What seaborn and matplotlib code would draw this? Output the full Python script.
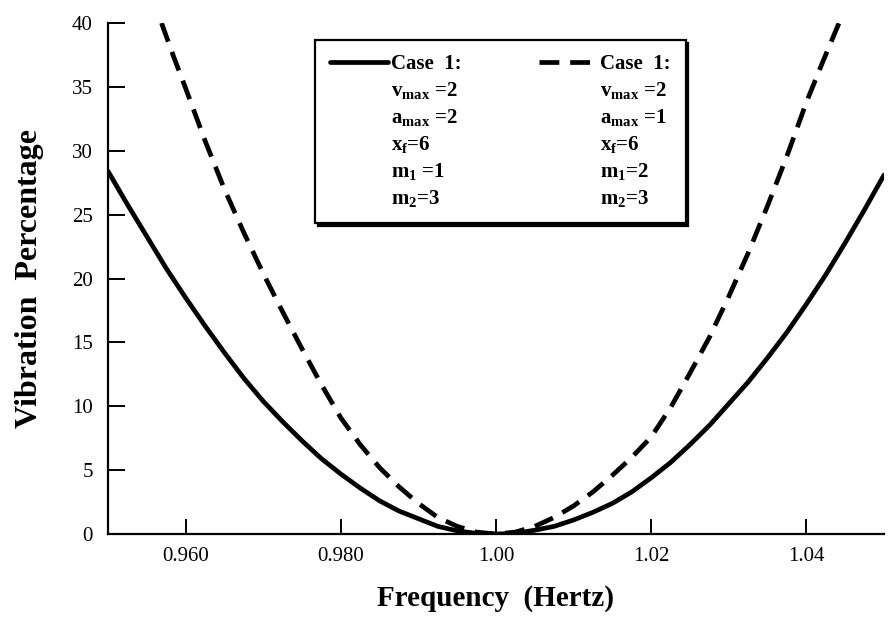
import numpy as np
import pandas as pd
import matplotlib
matplotlib.use("Agg")
import matplotlib.pyplot as plt
from matplotlib.lines import Line2D
import seaborn as sns

# ---- data ----
freq_solid = [0.9500, 0.9525, 0.9550, 0.9575, 0.9600, 0.9625, 0.9650, 0.9675, 0.9700, 0.9725,
              0.9750, 0.9775, 0.9800, 0.9825, 0.9850, 0.9875, 0.9900, 0.9925, 0.9950, 0.9975,
              1.0000, 1.0025, 1.0050, 1.0075, 1.0100, 1.0125, 1.0150, 1.0175, 1.0200, 1.0225,
              1.0250, 1.0275, 1.0300, 1.0325, 1.0350, 1.0375, 1.0400, 1.0425, 1.0450, 1.0475,
              1.0500]
vib_solid = [28.4, 25.8, 23.3, 20.8, 18.5, 16.3, 14.2, 12.2, 10.4, 8.8,
             7.3, 5.9, 4.7, 3.6, 2.6, 1.8, 1.2, 0.6, 0.25, 0.05,
             0.0, 0.05, 0.3, 0.6, 1.1, 1.7, 2.4, 3.3, 4.4, 5.6,
             7.0, 8.5, 10.2, 11.9, 13.8, 15.8, 18.0, 20.3, 22.8, 25.4,
             28.1]

freq_dash = [0.9569, 0.9585, 0.9600, 0.9625, 0.9650, 0.9675, 0.9700, 0.9725, 0.9750, 0.9775,
             0.9800, 0.9825, 0.9850, 0.9875, 0.9900, 0.9925, 0.9950, 0.9975, 1.0000, 1.0025,
             1.0050, 1.0075, 1.0100, 1.0125, 1.0150, 1.0175, 1.0200, 1.0225, 1.0250, 1.0275,
             1.0300, 1.0325, 1.0350, 1.0375, 1.0400, 1.0420, 1.0442]
vib_dash = [40.0, 37.3, 34.9, 30.8, 27.0, 23.6, 20.4, 17.4, 14.5, 11.7,
            9.1, 7.0, 5.2, 3.7, 2.4, 1.3, 0.6, 0.15, 0.0, 0.15,
            0.6, 1.3, 2.2, 3.3, 4.6, 6.0, 7.6, 9.9, 12.6, 15.4,
            18.6, 22.0, 25.7, 29.6, 33.8, 36.8, 40.0]

x_ticks = [0.960, 0.980, 1.00, 1.02, 1.04]
x_tick_labels = ["0.960", "0.980", "1.00", "1.02", "1.04"]
y_ticks = [0, 5, 10, 15, 20, 25, 30, 35, 40]

legend_solid = ["Case  1:", r"$\mathbf{v}_{\mathbf{max}}$ =2", r"$\mathbf{a}_{\mathbf{max}}$ =2",
                r"$\mathbf{x}_{\mathbf{f}}$=6", r"$\mathbf{m}_{\mathbf{1}}$ =1", r"$\mathbf{m}_{\mathbf{2}}$=3"]
legend_dash = ["Case  1:", r"$\mathbf{v}_{\mathbf{max}}$ =2", r"$\mathbf{a}_{\mathbf{max}}$ =1",
               r"$\mathbf{x}_{\mathbf{f}}$=6", r"$\mathbf{m}_{\mathbf{1}}$=2", r"$\mathbf{m}_{\mathbf{2}}$=3"]

# ---- style ----
sns.set_theme(style="ticks")
plt.rcParams["font.family"] = ["Liberation Serif", "DejaVu Serif"]
plt.rcParams["mathtext.fontset"] = "custom"
plt.rcParams["mathtext.rm"] = "Liberation Serif:bold"
plt.rcParams["mathtext.bf"] = "Liberation Serif:bold"
plt.rcParams["mathtext.it"] = "Liberation Serif:bold:italic"
for k in ["text.color", "axes.labelcolor", "xtick.color", "ytick.color",
          "xtick.labelcolor", "ytick.labelcolor", "axes.edgecolor"]:
    plt.rcParams[k] = "black"

fig = plt.figure(figsize=(8.88, 6.24), dpi=100)
ax = fig.add_axes([0.1216, 0.1442, 0.8739, 0.8189])

df_s = pd.DataFrame({"f": freq_solid, "v": vib_solid})
df_d = pd.DataFrame({"f": freq_dash, "v": vib_dash})

lw = 3.4
dash = (0, (4.2, 2.3))
sns.lineplot(data=df_s, x="f", y="v", ax=ax, color="black", linewidth=lw, sort=False)
sns.lineplot(data=df_d, x="f", y="v", ax=ax, color="black", linewidth=lw, sort=False,
             linestyle=dash)

ax.set_xlim(0.950, 1.050)
ax.set_ylim(0, 40)
ax.set_xticks(x_ticks)
ax.set_xticklabels(x_tick_labels)
ax.set_yticks(y_ticks)

for s in ["top", "right"]:
    ax.spines[s].set_visible(False)
for s in ["left", "bottom"]:
    ax.spines[s].set_linewidth(1.6)
    ax.spines[s].set_color("black")

ax.tick_params(axis="y", direction="in", length=12, width=1.4, pad=11,
               labelsize=15, colors="black")
ax.tick_params(axis="x", direction="in", length=11, width=1.4, pad=9,
               labelsize=15, colors="black")

ax.set_xlabel("Frequency  (Hertz)", fontsize=21, fontweight="bold", labelpad=14,
              color="black")
ax.set_ylabel("Vibration  Percentage", fontsize=23, fontweight="bold", labelpad=20,
              color="black")

# ---- legend ----
blank = Line2D([], [], color="none", linewidth=0)
h_solid = Line2D([], [], color="black", linewidth=lw)
h_dash = Line2D([], [], color="black", linewidth=lw, linestyle=dash)
handles = [h_solid] + [blank] * 5 + [h_dash] + [blank] * 5
labels = legend_solid + legend_dash
leg = ax.legend(handles, labels, ncol=2, loc="upper left",
                bbox_to_anchor=(0.267, 0.967), frameon=True, fancybox=False,
                shadow={"color": "black", "alpha": 1.0},
                prop={"family": "Liberation Serif", "weight": "bold", "size": 15},
                handlelength=2.8, handletextpad=0.15, columnspacing=3.7,
                labelspacing=0.28, borderpad=0.7, borderaxespad=0)
leg.get_frame().set_edgecolor("black")
leg.get_frame().set_linewidth(1.6)
leg.get_frame().set_facecolor("white")
for t in leg.get_texts():
    t.set_color("black")

fig.savefig("out.png", dpi=100)
